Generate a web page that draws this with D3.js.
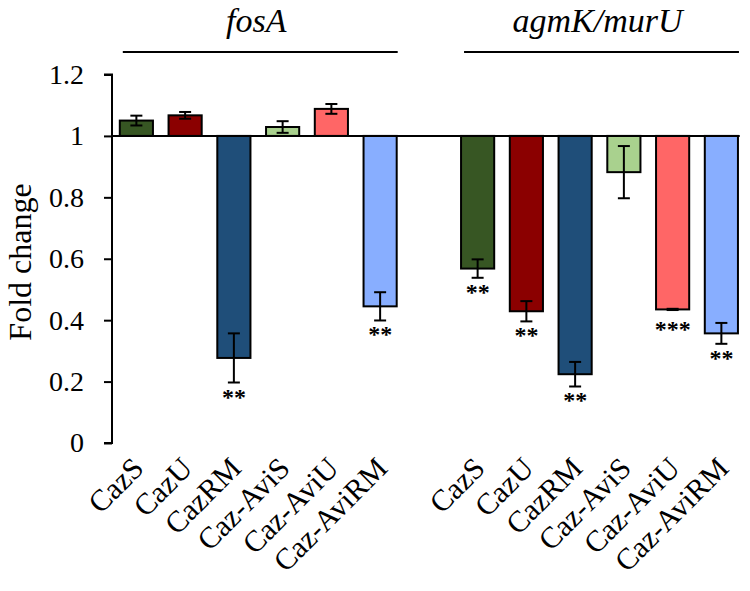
<!DOCTYPE html>
<html>
<head>
<meta charset="utf-8">
<script src="https://cdn.jsdelivr.net/npm/d3@7/dist/d3.min.js"></script>
<style>
  html, body { margin: 0; padding: 0; background: #fff; }
  svg { display: block; font-family: "Liberation Serif", "Times New Roman", serif; }
</style>
</head>
<body>
<svg id="chart" width="750" height="591"></svg>
<script>
// ---- data ----
const groups = ["fosA", "agmK/murU"];
const categories = ["CazS", "CazU", "CazRM", "Caz-AviS", "Caz-AviU", "Caz-AviRM"];
const colors = ["#375623", "#8B0000", "#1F4E79", "#A9D18E", "#FF6666", "#88AEFF"];
const fosAValues = [1.05, 1.067, 0.277, 1.029, 1.088, 0.445];
const fosAErrors = [0.016, 0.011, 0.08, 0.019, 0.016, 0.046];
const fosASig = ["", "", "**", "", "", "**"];
const agmKValues = [0.568, 0.429, 0.224, 0.882, 0.435, 0.357];
const agmKErrors = [0.03, 0.033, 0.04, 0.085, 0.002, 0.034];
const agmKSig = ["**", "**", "**", "", "***", "**"];
const yTicks = [0, 0.2, 0.4, 0.6, 0.8, 1, 1.2];
const baseline = 1;

// ---- build rows ----
const rows = [];
categories.forEach((c, i) => rows.push({ key: "f" + i, group: 0, cat: c, v: fosAValues[i], e: fosAErrors[i], sig: fosASig[i], color: colors[i] }));
categories.forEach((c, i) => rows.push({ key: "a" + i, group: 1, cat: c, v: agmKValues[i], e: agmKErrors[i], sig: agmKSig[i], color: colors[i] }));
const domain = categories.map((c, i) => "f" + i).concat(["gap"]).concat(categories.map((c, i) => "a" + i));

const svg = d3.select("#chart");
const x = d3.scaleBand().domain(domain).range([112, 112 + 13 * 48.75]).paddingInner(0.32).paddingOuter(0.16);
const y = d3.scaleLinear().domain([0, 1.2]).range([443, 74.5]);

// y axis
const yAxis = d3.axisLeft(y).tickValues(yTicks).tickSize(8).tickPadding(20)
  .tickFormat(d => d === 0 || d === 1 ? String(d) : d3.format(".1f")(d));
const gy = svg.append("g").attr("transform", "translate(112,0)").call(yAxis);
gy.select(".domain").attr("stroke", "#000").attr("stroke-width", 2).attr("d", `M-8,${y(1.2)}H0V${y(0)}H-8`);
gy.selectAll(".tick line").attr("stroke", "#000").attr("stroke-width", 2);
gy.selectAll(".tick text").attr("fill", "#000").style("font-size", "28px").style("font-family", "Liberation Serif, serif");

// y label
svg.append("text")
  .attr("transform", `translate(31,262) rotate(-90)`)
  .attr("text-anchor", "middle")
  .style("font-size", "32px")
  .text("Fold change");

// bars
const bw = x.bandwidth();
svg.append("g").selectAll("rect").data(rows).join("rect")
  .attr("x", d => x(d.key))
  .attr("width", bw)
  .attr("y", d => Math.min(y(d.v), y(baseline)))
  .attr("height", d => Math.abs(y(d.v) - y(baseline)))
  .attr("fill", d => d.color)
  .attr("stroke", "#000")
  .attr("stroke-width", 2);

// baseline at 1
svg.append("line")
  .attr("x1", 112).attr("x2", x.range()[1] - 6)
  .attr("y1", y(baseline)).attr("y2", y(baseline))
  .attr("stroke", "#000").attr("stroke-width", 2);

// error bars
const eg = svg.append("g").attr("stroke", "#000").attr("stroke-width", 2);
rows.forEach(d => {
  const cx = x(d.key) + bw / 2;
  const y1 = y(d.v + d.e), y2 = y(d.v - d.e);
  eg.append("line").attr("x1", cx).attr("x2", cx).attr("y1", y1).attr("y2", y2);
  eg.append("line").attr("x1", cx - 6).attr("x2", cx + 6).attr("y1", y1).attr("y2", y1);
  eg.append("line").attr("x1", cx - 6).attr("x2", cx + 6).attr("y1", y2).attr("y2", y2);
});

// significance
svg.append("g").selectAll("text").data(rows.filter(d => d.sig)).join("text")
  .attr("x", d => x(d.key) + bw / 2)
  .attr("y", d => Math.max(y(d.v - d.e), y(d.v) + 6) + 22)
  .attr("text-anchor", "middle")
  .style("font-size", "24px")
  .style("font-weight", "bold")
  .text(d => d.sig);

// x labels
svg.append("g").selectAll("text").data(rows).join("text")
  .attr("transform", d => `translate(${x(d.key) + bw / 2 + 9},470) rotate(-45)`)
  .attr("text-anchor", "end")
  .style("font-size", "30px")
  .text(d => d.cat);

// group lines and titles
groups.forEach((g, gi) => {
  const keys = rows.filter(r => r.group === gi).map(r => r.key);
  const x0 = x(keys[0]) + 3, x1 = x(keys[keys.length - 1]) + bw + 1;
  svg.append("line").attr("x1", x0).attr("x2", x1).attr("y1", 52).attr("y2", 52)
    .attr("stroke", "#000").attr("stroke-width", 2);
  svg.append("text")
    .attr("x", (x0 + x1) / 2 - 4).attr("y", 32)
    .attr("text-anchor", "middle")
    .style("font-size", "34px")
    .style("font-style", "italic")
    .text(g);
});
</script>
</body>
</html>
